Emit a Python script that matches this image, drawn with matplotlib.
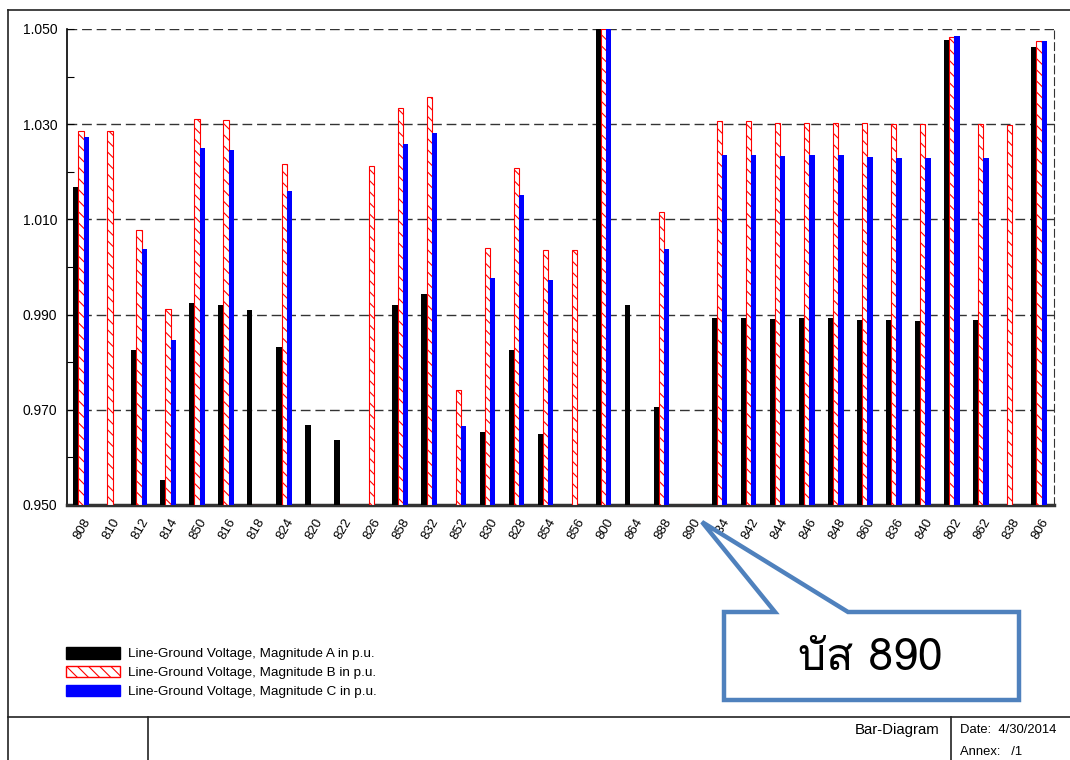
import numpy as np
import matplotlib
matplotlib.use("Agg")
import matplotlib.pyplot as plt
from matplotlib import font_manager
from matplotlib.ft2font import FT2Font
from matplotlib.patches import Patch, Polygon
from matplotlib.transforms import ScaledTranslation

# ---- data (per-unit voltages) ----
buses = ['808', '810', '812', '814', '850', '816', '818', '824', '820', '822',
         '826', '858', '832', '852', '830', '828', '854', '856', '800', '864',
         '888', '890', '834', '842', '844', '846', '848', '860', '836', '840',
         '802', '862', '838', '806']

volt_a = [1.0168, None, 0.9826, 0.9553, 0.9924, 0.9920, 0.9910, 0.9832, 0.9668, 0.9637,
          None, 0.9920, 0.9943, None, 0.9653, 0.9826, 0.9649, None, 1.0500, 0.9920,
          0.9706, None, 0.9893, 0.9893, 0.9891, 0.9893, 0.9893, 0.9889, 0.9888, 0.9887,
          1.0477, 0.9888, None, 1.0462]
volt_b = [1.0286, 1.0286, 1.0078, 0.9912, 1.0311, 1.0309, None, 1.0216, None, None,
          1.0212, 1.0334, 1.0357, 0.9742, 1.0040, 1.0208, 1.0036, 1.0036, 1.0500, None,
          1.0116, None, 1.0307, 1.0307, 1.0303, 1.0303, 1.0303, 1.0302, 1.0300, 1.0300,
          1.0483, 1.0300, 1.0298, 1.0475]
volt_c = [1.0273, None, 1.0038, 0.9847, 1.0250, 1.0246, None, 1.0160, None, None,
          None, 1.0258, 1.0282, 0.9666, 0.9977, 1.0151, 0.9973, None, 1.0500, None,
          1.0038, None, 1.0235, 1.0235, 1.0233, 1.0235, 1.0235, 1.0231, 1.0230, 1.0229,
          1.0485, 1.0229, None, 1.0475]

series_labels = ['Line-Ground Voltage, Magnitude A in p.u.',
                 'Line-Ground Voltage, Magnitude B in p.u.',
                 'Line-Ground Voltage, Magnitude C in p.u.']
callout_text = 'บัส 890'

Y_MIN, Y_MAX = 0.950, 1.050


# find a font that has Thai glyphs for the callout
def thai_family():
    for f in font_manager.fontManager.ttflist:
        try:
            if 0x0E1A in FT2Font(f.fname).get_charmap():
                return f.name
        except Exception:
            pass
    return 'DejaVu Sans'


plt.rcParams['font.family'] = ['Liberation Sans', 'DejaVu Sans']
plt.rcParams['hatch.linewidth'] = 0.8

W, H = 1070, 760
fig = plt.figure(figsize=(W / 100, H / 100), dpi=100)
ax = fig.add_axes([67 / W, 1 - 505 / H, (1054 - 67) / W, (505 - 29) / H])

x = np.arange(len(buses))
bw = 0.18


def heights(vals):
    return np.array([0.0 if v is None else v - Y_MIN for v in vals])


ax.bar(x - bw, heights(volt_a), bw, bottom=Y_MIN, color='black', zorder=3)
ax.bar(x, heights(volt_b), bw, bottom=Y_MIN, facecolor='white', edgecolor='red',
       hatch='\\\\\\', linewidth=0.8, zorder=3)
ax.bar(x + bw, heights(volt_c), bw, bottom=Y_MIN, color='blue', zorder=3)

ax.set_xlim(-0.48, len(buses) - 1 + 0.52)
ax.set_ylim(Y_MIN, Y_MAX)
ax.set_yticks(np.arange(0.950, 1.0501, 0.02))
ax.set_yticks(np.arange(0.960, 1.05, 0.02), minor=True)
ax.yaxis.set_major_formatter(matplotlib.ticker.FormatStrFormatter('%.3f'))
ax.tick_params(axis='y', which='both', direction='in', labelsize=10, length=5,
               width=0.8, pad=7)
ax.set_xticks(x)
ax.set_xticklabels(buses, rotation=60, rotation_mode='anchor', ha='right',
                   va='center', fontsize=9.5)
ax.tick_params(axis='x', length=0, pad=10)
shift = ScaledTranslation(7 / 100, 0, fig.dpi_scale_trans)
for lbl in ax.get_xticklabels():
    lbl.set_transform(lbl.get_transform() + shift)
ax.grid(axis='y', color='#333333', linestyle=(0, (7, 3.5)), linewidth=1.0, zorder=1)

ax.spines['top'].set_visible(False)
ax.spines['right'].set_linestyle((0, (7, 3.5)))
ax.spines['right'].set_color('#333333')
ax.spines['bottom'].set_linewidth(2.5)
ax.spines['bottom'].set_color('#333333')
ax.spines['left'].set_linewidth(1.2)

# legend
handles = [Patch(facecolor='black', edgecolor='black'),
           Patch(facecolor='white', edgecolor='red', hatch='\\\\\\'),
           Patch(facecolor='blue', edgecolor='blue')]
fig.legend(handles, series_labels, loc='upper left', bbox_to_anchor=(66 / W, 1 - 647 / H),
           frameon=False, fontsize=9.7, handlelength=4.0, handleheight=0.95,
           labelspacing=0.4, handletextpad=0.6, borderpad=0, borderaxespad=0)

# page frame and title block
fl = dict(color='#222222', linewidth=1.2, transform=fig.transFigure)
fig.add_artist(plt.Line2D([8 / W, 1], [1 - 10 / H, 1 - 10 / H], **fl))
fig.add_artist(plt.Line2D([8 / W, 8 / W], [1 - 10 / H, 0], **fl))
fig.add_artist(plt.Line2D([8 / W, 1], [1 - 717 / H, 1 - 717 / H], **fl))
fig.add_artist(plt.Line2D([148 / W, 148 / W], [1 - 717 / H, 0], **fl))
fig.add_artist(plt.Line2D([951 / W, 951 / W], [1 - 717 / H, 0], **fl))
fig.text(939 / W, 1 - 730 / H, 'Bar-Diagram', ha='right', va='center', fontsize=10.8)
fig.text(960 / W, 1 - 730 / H, 'Date:  4/30/2014', ha='left', va='center', fontsize=9.4)
fig.text(960 / W, 1 - 752 / H, 'Annex:   /1', ha='left', va='center', fontsize=9.4)

# callout box pointing at bus 890
pts = [(724, 612), (775, 612), (702, 522), (848, 612), (1019, 612), (1019, 700), (724, 700)]
fig.add_artist(Polygon([(px / W, 1 - py / H) for px, py in pts], closed=True,
                       transform=fig.transFigure, facecolor='white',
                       edgecolor='#4F81BD', linewidth=3.2, zorder=5))
fig.text(870 / W, 1 - 658 / H, callout_text, ha='center', va='center', fontsize=32,
         family=[thai_family(), 'DejaVu Sans'], zorder=6)

fig.savefig('out.png', dpi=100)
